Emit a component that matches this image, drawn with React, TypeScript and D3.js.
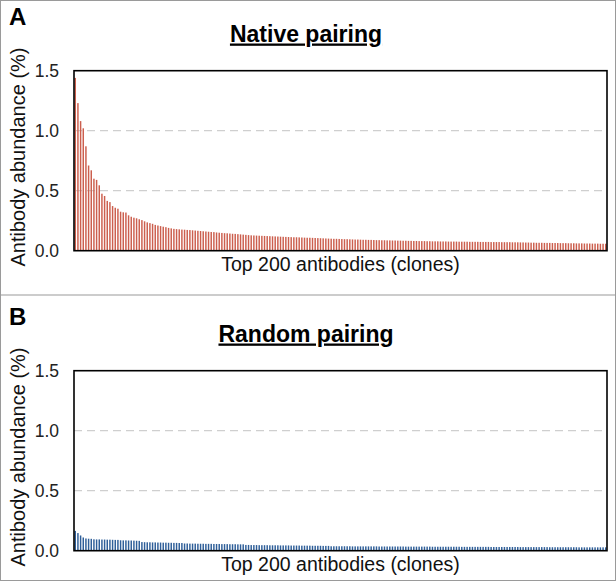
import * as d3 from 'd3'

// values (% abundance, top 200 clones, ranked)
const nativeValues: number[] = [
  1.44, 1.23, 1.08, 1.02, 0.87, 0.71, 0.67, 0.60, 0.59, 0.545, 0.475, 0.456, 0.415, 0.405, 0.372, 0.358, 0.35, 0.325, 0.32, 0.318, 0.295, 0.283, 0.275, 0.27,
  0.262, 0.255, 0.245, 0.236, 0.23, 0.224, 0.215, 0.21, 0.205, 0.2, 0.196, 0.19, 0.186,
  0.182, 0.18, 0.178, 0.176, 0.175, 0.173, 0.172, 0.17, 0.168, 0.166, 0.164, 0.162, 0.16, 0.158, 0.156, 0.155,
  0.152, 0.15, 0.148, 0.146, 0.145, 0.143, 0.141, 0.14, 0.138, 0.136, 0.134, 0.132, 0.13,
  0.128, 0.127, 0.126, 0.125, 0.124, 0.123, 0.122, 0.121, 0.12, 0.119, 0.118,
  0.117, 0.116, 0.115, 0.114, 0.113, 0.112, 0.112, 0.111, 0.11, 0.109, 0.108, 0.108, 0.107, 0.106, 0.105, 0.104, 0.103,
  0.102, 0.101, 0.1, 0.099, 0.099, 0.098, 0.097, 0.096, 0.096, 0.095, 0.094, 0.093, 0.093,
  0.092, 0.091, 0.091, 0.09, 0.09, 0.089, 0.088, 0.088, 0.087, 0.087, 0.086, 0.086, 0.085, 0.085, 0.084, 0.084, 0.083, 0.083, 0.082, 0.082, 0.081, 0.081, 0.08, 0.08, 0.08, 0.079, 0.079,
  0.078, 0.078, 0.078, 0.077, 0.077, 0.077, 0.076, 0.076, 0.076, 0.076, 0.075, 0.075, 0.075, 0.075, 0.074, 0.074, 0.074, 0.074, 0.073, 0.073, 0.073, 0.073, 0.072, 0.072, 0.072, 0.072, 0.071, 0.071, 0.071, 0.071, 0.07, 0.07, 0.07, 0.069, 0.069,
  0.068, 0.068, 0.067, 0.067, 0.066, 0.066, 0.066, 0.065, 0.065, 0.065, 0.064, 0.064, 0.064,
  0.063, 0.063, 0.063, 0.062, 0.062, 0.062, 0.061, 0.061, 0.061, 0.06, 0.06, 0.06, 0.059, 0.059, 0.059, 0.058, 0.058, 0.058,
]

const randomValues: number[] = [
  0.165, 0.147, 0.127, 0.11, 0.102, 0.1, 0.099,
  0.095, 0.094, 0.094, 0.093, 0.093, 0.092, 0.092, 0.091, 0.09, 0.09,
  0.087, 0.086, 0.086, 0.085, 0.085, 0.084, 0.083, 0.082,
  0.072, 0.071, 0.07, 0.07, 0.069, 0.069, 0.068, 0.068, 0.067, 0.067, 0.066, 0.066, 0.065, 0.065, 0.064, 0.064,
  0.06, 0.06, 0.059, 0.059, 0.059, 0.058, 0.058, 0.058, 0.057, 0.057, 0.057, 0.056, 0.056, 0.056, 0.055, 0.055, 0.055, 0.054, 0.054, 0.054, 0.053, 0.053, 0.053,
  0.048, 0.048, 0.047, 0.047, 0.047, 0.046, 0.046, 0.046, 0.046, 0.045, 0.045, 0.045, 0.045, 0.044, 0.044, 0.044, 0.044, 0.043, 0.043, 0.043, 0.043, 0.042, 0.042, 0.042, 0.042, 0.041, 0.041, 0.041, 0.041, 0.04, 0.04, 0.04,
  0.037, 0.037, 0.037, 0.037, 0.037, 0.037, 0.037, 0.037,
  0.036, 0.036, 0.036, 0.036, 0.036, 0.036, 0.036, 0.036, 0.036, 0.036,
  0.035, 0.035, 0.035, 0.035, 0.035, 0.035, 0.035, 0.035, 0.035, 0.035,
  0.034, 0.034, 0.034, 0.034, 0.034, 0.034, 0.034, 0.034, 0.034, 0.034,
  0.033, 0.033, 0.033, 0.033, 0.033, 0.033, 0.033, 0.033, 0.033, 0.033, 0.033,
  0.032, 0.032, 0.032, 0.032, 0.032, 0.032, 0.032, 0.032, 0.032, 0.032, 0.032,
  0.031, 0.031, 0.031, 0.031, 0.031, 0.031, 0.031, 0.031, 0.031, 0.031, 0.031,
  0.03, 0.03, 0.03, 0.03, 0.03, 0.03, 0.03, 0.03, 0.03, 0.03, 0.03,
  0.029, 0.029, 0.029, 0.029, 0.029, 0.029, 0.029, 0.029, 0.029, 0.029, 0.029,
  0.028, 0.028, 0.028, 0.028, 0.028, 0.028, 0.028, 0.028, 0.028, 0.028, 0.028,
]

const yTicks = [0, 0.5, 1.0, 1.5]
const gridTicks = [0.5, 1.0]
const xLabel = 'Top 200 antibodies (clones)'
const yLabel = 'Antibody abundance (%)'

const W = 616
const H = 581
const FONT = 'Arial, "Liberation Sans", sans-serif'

interface PanelProps {
  top: number
  letter: string
  title: string
  values: number[]
  color: string
}

const Panel = ({ top, letter, title, values, color }: PanelProps) => {
  const plot = { left: 74, right: 607, top: top + 70.7, bottom: top + 250.7 }

  const x = d3.scaleBand<number>()
    .domain(values.map((_, i) => i))
    .range([plot.left, plot.right])
    .paddingInner(0.45)
    .paddingOuter(0.2)

  const y = d3.scaleLinear().domain([0, 1.5]).range([plot.bottom, plot.top])
  const fmt = d3.format('.1f')
  const midX = (plot.left + plot.right) / 2

  return (
    <g>
      <text x={9} y={top + 24.5} fontSize={24} fontWeight="bold" fontFamily={FONT}>{letter}</text>
      <text x={306} y={top + 41.5} fontSize={23} fontWeight="bold" fontFamily={FONT}
        textAnchor="middle" textDecoration="underline">{title}</text>

      {gridTicks.map(t => (
        <line key={t} x1={plot.left} x2={plot.right} y1={y(t)} y2={y(t)}
          stroke="#cfcfcf" strokeWidth={1.2} strokeDasharray="8,5" />
      ))}

      {values.map((v, i) => (
        <rect key={i} x={x(i)} width={x.bandwidth()} y={y(v)} height={y(0) - y(v)} fill={color} />
      ))}

      <rect x={plot.left} y={plot.top} width={plot.right - plot.left} height={plot.bottom - plot.top}
        fill="none" stroke="#000" strokeWidth={1.6} />

      {yTicks.map(t => (
        <text key={t} x={59} y={y(t)} dy="0.36em" textAnchor="end" fontSize={17.5}
          fontFamily={FONT} fill="#222">{fmt(t)}</text>
      ))}

      <text x={midX} y={top + 271} textAnchor="middle" fontSize={19.5} fontFamily={FONT} fill="#111">{xLabel}</text>
      <text transform={`translate(24.5, ${top + 157}) rotate(-90)`} textAnchor="middle" fontSize={20}
        fontFamily={FONT} fill="#111">{yLabel}</text>
    </g>
  )
}

export default function App() {
  return (
    <svg width={W} height={H} style={{ position: 'absolute', left: 0, top: 0, background: '#fff' }}>
      <rect x={0.5} y={0.5} width={W - 1} height={H - 1} fill="#fff" stroke="#9a9a9a" strokeWidth={1} />
      <line x1={0} x2={W} y1={295} y2={295} stroke="#9a9a9a" strokeWidth={1.2} />
      <Panel top={0} letter="A" title="Native pairing" values={nativeValues} color="#cc5f4e" />
      <Panel top={300} letter="B" title="Random pairing" values={randomValues} color="#2f5f99" />
    </svg>
  )
}
